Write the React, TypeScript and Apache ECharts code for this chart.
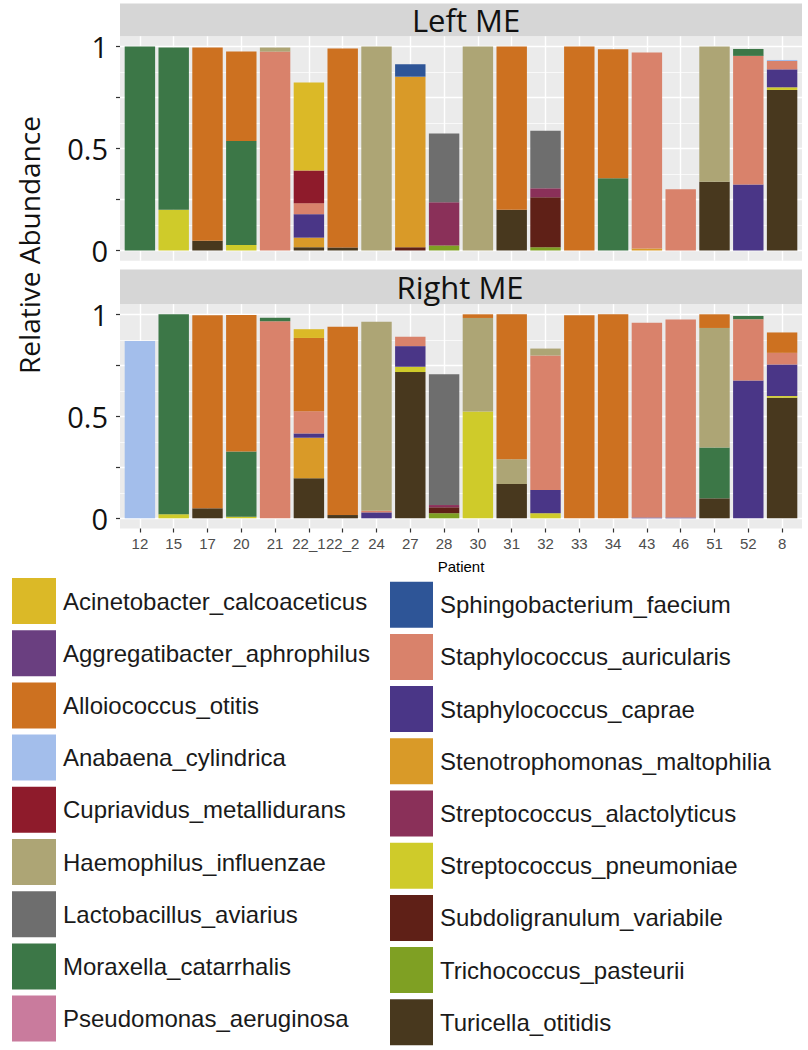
import React, { useEffect, useRef } from 'react';
import * as echarts from 'echarts';

const patients = ['12', '15', '17', '20', '21', '22_1', '22_2', '24', '27', '28', '30', '31', '32', '33', '34', '43', '46', '51', '52', '8'];

const species = [
  'Acinetobacter_calcoaceticus', 'Aggregatibacter_aphrophilus', 'Alloiococcus_otitis', 'Anabaena_cylindrica',
  'Cupriavidus_metallidurans', 'Haemophilus_influenzae', 'Lactobacillus_aviarius', 'Moraxella_catarrhalis',
  'Pseudomonas_aeruginosa', 'Sphingobacterium_faecium', 'Staphylococcus_auricularis', 'Staphylococcus_caprae',
  'Stenotrophomonas_maltophilia', 'Streptococcus_alactolyticus', 'Streptococcus_pneumoniae', 'Subdoligranulum_variabile',
  'Trichococcus_pasteurii', 'Turicella_otitidis',
];

const speciesColors = [
  '#DBB927', '#6A3F80', '#CD7120', '#A3BEEB',
  '#8E1B2B', '#ADA575', '#6E6E6E', '#3C7747',
  '#C97B9D', '#2E5597', '#D9826B', '#4A3687',
  '#D99A28', '#8A3059', '#CFCB2A', '#5F2017',
  '#7FA023', '#48381E',
];

// Left ME (one value per patient, in the order of `patients`)
const leftAcinetobacter = [0, 0, 0, 0, 0, 0.431, 0, 0, 0, 0, 0, 0, 0, 0, 0, 0, 0, 0, 0, 0];
const leftAggregatibacter = [0, 0, 0, 0, 0, 0, 0, 0, 0, 0, 0, 0, 0, 0, 0, 0, 0, 0, 0, 0];
const leftAlloiococcus = [0, 0, 0.947, 0.438, 0, 0, 0.975, 0, 0, 0, 0, 0.8, 0, 1.0, 0.632, 0, 0, 0, 0, 0];
const leftAnabaena = [0, 0, 0, 0, 0, 0, 0, 0, 0, 0, 0, 0, 0, 0, 0, 0, 0, 0, 0, 0.005];
const leftCupriavidus = [0, 0, 0, 0, 0, 0.16, 0, 0, 0, 0, 0, 0, 0, 0, 0, 0, 0, 0, 0, 0];
const leftHaemophilus = [0, 0, 0, 0, 0.02, 0, 0, 1.0, 0, 0, 1.0, 0, 0, 0, 0, 0, 0, 0.663, 0, 0];
const leftLactobacillus = [0, 0, 0, 0, 0, 0, 0, 0, 0, 0.337, 0, 0, 0.282, 0, 0, 0, 0, 0, 0, 0];
const leftMoraxella = [1.0, 0.795, 0, 0.51, 0, 0, 0, 0, 0, 0, 0, 0, 0, 0, 0.354, 0, 0, 0, 0.034, 0];
const leftPseudomonas = [0, 0, 0, 0, 0, 0, 0, 0, 0, 0, 0, 0, 0, 0, 0, 0, 0, 0, 0, 0];
const leftSphingobacterium = [0, 0, 0, 0, 0, 0, 0, 0, 0.061, 0, 0, 0, 0, 0, 0, 0, 0, 0, 0, 0];
const leftStaphAuricularis = [0, 0, 0, 0, 0.975, 0.054, 0, 0, 0, 0, 0, 0, 0, 0, 0, 0.96, 0.3, 0, 0.63, 0.041];
const leftStaphCaprae = [0, 0, 0, 0, 0, 0.115, 0, 0, 0, 0, 0, 0, 0, 0, 0, 0, 0, 0, 0.324, 0.088];
const leftStenotrophomonas = [0, 0, 0, 0, 0, 0.047, 0, 0, 0.836, 0, 0, 0, 0, 0, 0, 0.01, 0, 0, 0, 0];
const leftStrepAlactolyticus = [0, 0, 0, 0, 0, 0, 0, 0, 0, 0.212, 0, 0, 0.044, 0, 0, 0, 0, 0, 0, 0];
const leftStrepPneumoniae = [0, 0.2, 0, 0.027, 0, 0, 0, 0, 0, 0, 0, 0, 0, 0, 0, 0, 0, 0, 0, 0.013];
const leftSubdoligranulum = [0, 0, 0, 0, 0, 0, 0, 0, 0.016, 0, 0, 0, 0.245, 0, 0, 0, 0, 0, 0, 0];
const leftTrichococcus = [0, 0, 0, 0, 0, 0, 0, 0, 0, 0.025, 0, 0, 0.016, 0, 0, 0, 0, 0, 0, 0];
const leftTuricella = [0, 0, 0.048, 0, 0, 0.016, 0.015, 0, 0, 0, 0, 0.2, 0, 0, 0, 0, 0, 0.337, 0, 0.787];

// Right ME
const rightAcinetobacter = [0, 0, 0, 0, 0, 0.043, 0, 0, 0, 0, 0, 0, 0, 0, 0, 0, 0, 0, 0, 0];
const rightAggregatibacter = [0, 0, 0, 0, 0, 0, 0, 0, 0, 0, 0, 0, 0, 0, 0, 0, 0, 0, 0, 0];
const rightAlloiococcus = [0, 0, 0.946, 0.669, 0, 0.359, 0.923, 0, 0, 0, 0.018, 0.711, 0, 0.995, 1.0, 0, 0, 0.067, 0, 0.1];
const rightAnabaena = [0.869, 0, 0, 0, 0, 0, 0, 0, 0, 0, 0, 0, 0, 0, 0, 0, 0, 0, 0, 0];
const rightCupriavidus = [0, 0, 0, 0, 0, 0, 0, 0, 0, 0, 0, 0, 0, 0, 0, 0, 0, 0, 0, 0];
const rightHaemophilus = [0, 0, 0, 0, 0, 0, 0, 0.927, 0, 0, 0.459, 0.121, 0.034, 0, 0, 0, 0, 0.586, 0, 0];
const rightLactobacillus = [0, 0, 0, 0, 0, 0, 0, 0, 0, 0.641, 0, 0, 0, 0, 0, 0, 0, 0, 0, 0];
const rightMoraxella = [0, 0.98, 0, 0.319, 0.017, 0, 0, 0, 0, 0, 0, 0, 0, 0, 0, 0, 0, 0.249, 0.016, 0];
const rightPseudomonas = [0, 0, 0, 0, 0, 0, 0, 0, 0, 0, 0, 0, 0, 0, 0, 0, 0, 0, 0, 0];
const rightSphingobacterium = [0, 0, 0, 0, 0, 0, 0, 0, 0, 0, 0, 0, 0, 0, 0, 0, 0, 0, 0, 0];
const rightStaphAuricularis = [0, 0, 0, 0, 0.966, 0.109, 0, 0.008, 0.046, 0, 0, 0, 0.659, 0, 0, 0.955, 0.971, 0, 0.301, 0.057];
const rightStaphCaprae = [0, 0, 0, 0, 0, 0.021, 0, 0.029, 0.101, 0, 0, 0, 0.114, 0, 0, 0.004, 0.004, 0, 0.675, 0.155];
const rightStenotrophomonas = [0, 0, 0, 0, 0, 0.199, 0, 0, 0, 0, 0, 0, 0, 0, 0, 0, 0, 0, 0, 0];
const rightStrepAlactolyticus = [0, 0, 0, 0, 0, 0, 0, 0, 0, 0.011, 0, 0, 0, 0, 0, 0, 0, 0, 0, 0];
const rightStrepPneumoniae = [0, 0.02, 0, 0.008, 0, 0, 0, 0, 0.026, 0, 0.523, 0, 0.025, 0, 0, 0, 0, 0, 0, 0.008];
const rightSubdoligranulum = [0, 0, 0, 0, 0, 0, 0, 0, 0, 0.029, 0, 0, 0, 0, 0, 0, 0, 0, 0, 0];
const rightTrichococcus = [0, 0, 0, 0, 0, 0, 0, 0, 0, 0.025, 0, 0, 0, 0, 0, 0, 0, 0, 0, 0];
const rightTuricella = [0, 0, 0.049, 0, 0, 0.196, 0.016, 0, 0.717, 0, 0, 0.168, 0, 0, 0, 0, 0, 0.098, 0, 0.591];

const leftData = [
  leftAcinetobacter, leftAggregatibacter, leftAlloiococcus, leftAnabaena, leftCupriavidus, leftHaemophilus,
  leftLactobacillus, leftMoraxella, leftPseudomonas, leftSphingobacterium, leftStaphAuricularis, leftStaphCaprae,
  leftStenotrophomonas, leftStrepAlactolyticus, leftStrepPneumoniae, leftSubdoligranulum, leftTrichococcus, leftTuricella,
];
const rightData = [
  rightAcinetobacter, rightAggregatibacter, rightAlloiococcus, rightAnabaena, rightCupriavidus, rightHaemophilus,
  rightLactobacillus, rightMoraxella, rightPseudomonas, rightSphingobacterium, rightStaphAuricularis, rightStaphCaprae,
  rightStenotrophomonas, rightStrepAlactolyticus, rightStrepPneumoniae, rightSubdoligranulum, rightTrichococcus, rightTuricella,
];

const yTickLabels: Record<string, string> = { '0': '0', '0.5': '0.5', '1': '1' };

function buildOption() {
  const panelLeft = 120;
  const panelWidth = 682;
  const firstCenter = 139.9;
  const lastCenter = 782.1;
  const band = (lastCenter - firstCenter) / (patients.length - 1);
  const panels = [
    { title: 'Left ME', stripTop: 3.5, panelTop: 36.3, yTop: 46.5, titleX: 466, titleY: 20, data: leftData, bottom: false },
    { title: 'Right ME', stripTop: 269.5, panelTop: 304.1, yTop: 314.3, titleX: 460, titleY: 287, data: rightData, bottom: true },
  ];
  const plotH = 204;
  const grid: any[] = [];
  const xAxis: any[] = [];
  const yAxis: any[] = [];
  const series: any[] = [];
  const graphic: any[] = [];
  const white = '#FFFFFF';

  panels.forEach((p, pi) => {
    const panelH = plotH * 1.1;
    const base = pi * 3;
    // H grid: horizontal grid lines and y axis
    grid.push({ left: panelLeft, width: panelWidth, top: p.yTop, height: plotH, outerBoundsMode: 'none' });
    // V grid: vertical grid lines and x axis
    grid.push({ left: firstCenter, width: lastCenter - firstCenter, top: p.panelTop, height: panelH, outerBoundsMode: 'none' });
    // B grid: bars
    grid.push({ left: firstCenter - band / 2, width: band * patients.length, top: p.yTop, height: plotH, outerBoundsMode: 'none' });

    xAxis.push({ gridIndex: base, type: 'value', min: 0, max: 1, show: false });
    yAxis.push({
      gridIndex: base, type: 'value', min: 0, max: 1, interval: 0.25,
      axisLine: { show: false },
      axisTick: { show: true, length: 4, lineStyle: { color: '#333333', width: 1.2 } },
      axisLabel: {
        margin: 12, fontSize: 29, fontFamily: 'Open Sans', color: '#111111',
        formatter: (v: number) => yTickLabels[String(v)] ?? '',
      },
      splitLine: { show: true, lineStyle: { color: white, width: 1.4 } },
      minorTick: { show: false, splitNumber: 2 },
      minorSplitLine: { show: true, lineStyle: { color: white, width: 0.7 } },
      z: 1,
    });

    xAxis.push({
      gridIndex: base + 1, type: 'value', min: 0, max: patients.length - 1, interval: 1,
      axisLine: { show: false },
      axisTick: { show: p.bottom, length: 4, lineStyle: { color: '#333333', width: 1.2 } },
      axisLabel: {
        show: p.bottom, margin: 7, fontSize: 15, fontFamily: 'Liberation Sans', color: '#4D4D4D',
        formatter: (v: number) => patients[Math.round(v)] ?? '',
      },
      splitLine: { show: true, lineStyle: { color: white, width: 1.4 } },
      name: p.bottom ? 'Patient' : '',
      nameLocation: 'middle', nameGap: 30,
      nameTextStyle: { fontSize: 15, fontFamily: 'Liberation Sans', color: '#000000' },
      z: 1,
    });
    yAxis.push({ gridIndex: base + 1, type: 'value', min: 0, max: 1, show: false });

    xAxis.push({ gridIndex: base + 2, type: 'category', data: patients, show: false });
    yAxis.push({ gridIndex: base + 2, type: 'value', min: 0, max: 1, show: false });

    // stack: last legend entry at the bottom
    for (let s = species.length - 1; s >= 0; s--) {
      series.push({
        type: 'bar', name: species[s], xAxisIndex: base + 2, yAxisIndex: base + 2,
        stack: 'panel' + pi, barWidth: '90%', data: p.data[s],
        itemStyle: { color: speciesColors[s] },
        emphasis: { disabled: true },
      });
    }

    graphic.push({
      type: 'rect', z: -10, silent: true,
      shape: { x: panelLeft, y: p.panelTop, width: panelWidth, height: panelH },
      style: { fill: '#EBEBEB' },
    });
    graphic.push({
      type: 'rect', z: -10, silent: true,
      shape: { x: panelLeft, y: p.stripTop, width: panelWidth, height: p.panelTop - p.stripTop },
      style: { fill: '#D6D6D6' },
    });
    graphic.push({
      type: 'text', z: 10, x: p.titleX, y: p.titleY, silent: true,
      style: { text: p.title, fontSize: 31, fontFamily: 'Open Sans', fill: '#111111', align: 'center', verticalAlign: 'middle' },
    });
  });

  graphic.push({
    type: 'text', z: 10, x: 29, y: 245, rotation: Math.PI / 2, silent: true,
    style: { text: 'Relative Abundance', fontSize: 28, fontFamily: 'Open Sans', fill: '#111111', align: 'center', verticalAlign: 'middle' },
  });

  const legendCommon = {
    orient: 'vertical', padding: 0, icon: 'rect', selectedMode: false,
    itemHeight: 46, itemGap: 6.2,
    textStyle: { fontSize: 24, fontFamily: 'Liberation Sans', color: '#1A1A1A', padding: [0, 0, 0, 2] },
  };

  return {
    animation: false,
    backgroundColor: '#FFFFFF',
    grid, xAxis, yAxis, series, graphic,
    legend: [
      { ...legendCommon, data: species.slice(0, 9), left: 12, top: 578, itemWidth: 44 },
      { ...legendCommon, data: species.slice(9), left: 390, top: 581.7, itemWidth: 43 },
    ],
  };
}

export default function App() {
  const ref = useRef<HTMLDivElement>(null);
  useEffect(() => {
    if (!ref.current) return;
    const chart = echarts.init(ref.current, undefined, { renderer: 'svg' });
    chart.setOption(buildOption() as any);
    return () => chart.dispose();
  }, []);
  return <div ref={ref} style={{ position: 'absolute', left: 0, top: 0, width: 808, height: 1050 }} />;
}
